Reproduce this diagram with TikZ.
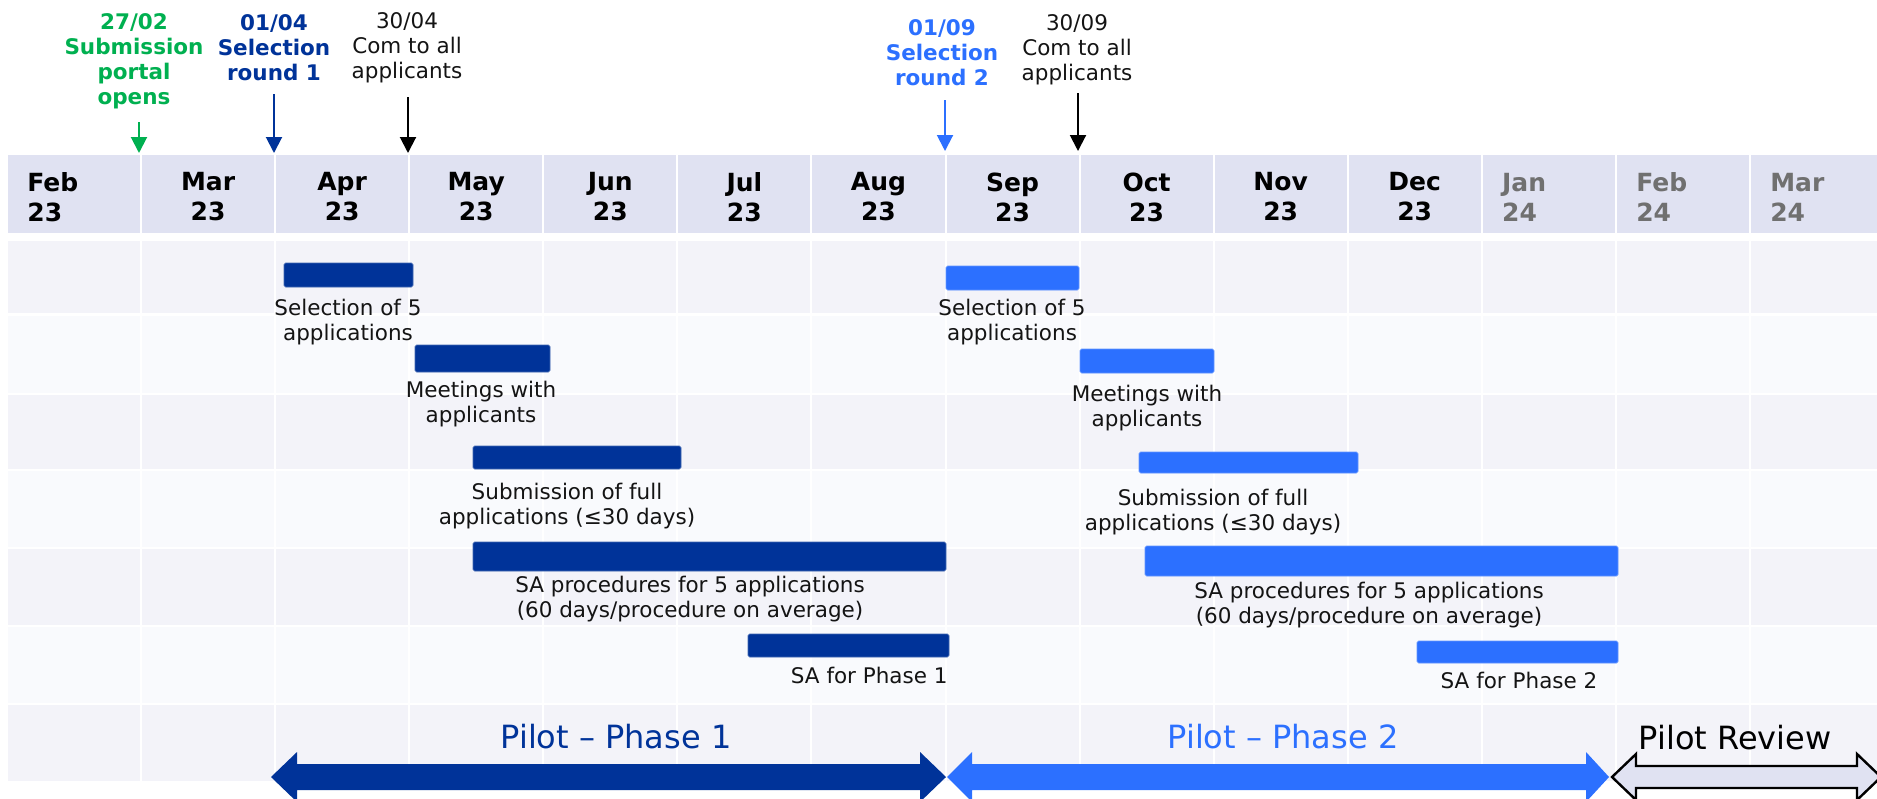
\documentclass[tikz,border=0pt]{standalone}
\usepackage{fontspec}
\setmainfont{DejaVu Sans}
\usetikzlibrary{arrows.meta}
\definecolor{dkblue}{RGB}{0,51,153}
\definecolor{ltblue}{RGB}{44,112,255}
\definecolor{grn}{RGB}{0,176,80}
\definecolor{hdr}{RGB}{224,226,242}
\definecolor{rowA}{RGB}{243,243,249}
\definecolor{rowB}{RGB}{249,250,253}
\definecolor{gry}{RGB}{112,112,112}
\definecolor{txt}{RGB}{20,20,20}
\begin{document}
\begin{tikzpicture}[x=0.5pt,y=-0.5pt,
  lbl/.style={font={\fontsize{10.75}{12.5}\selectfont}, align=center, inner sep=0pt, text=txt},
  blbl/.style={font={\fontsize{10.75}{12.5}\selectfont\bfseries}, align=center, inner sep=0pt},
  month/.style={font={\fontsize{12.5}{15}\selectfont\bfseries}, inner sep=0pt},
  pil/.style={font={\fontsize{16}{19}\selectfont}, inner sep=0pt},
  tick/.style={line width=1pt, -{Triangle[width=8pt,length=8pt]}},
  dkbar/.style={fill=dkblue, draw=dkblue!75!white, line width=0.4pt, rounded corners=0.8pt},
  ltbar/.style={fill=ltblue, draw=ltblue!75!white, line width=0.4pt, rounded corners=0.8pt}
]
\useasboundingbox (0,0) rectangle (1877,798);
\fill[white] (0,0) rectangle (1877,798);
% header band and rows
\fill[hdr] (8,155) rectangle (1877,233);
\foreach \a/\b/\c in {241/313/rowA,316/393/rowB,395/469/rowA,471/547/rowB,549/625/rowA,627/703/rowB,705/781/rowA}
  \fill[\c] (8,\a) rectangle (1877,\b);
\foreach \i in {1,...,13}
  \fill[white] ({8+134.07*\i-2},155) rectangle ({8+134.07*\i},781);
% month labels
\node[month, align=left, anchor=west] (m0) at (27,197) {Feb\\23};
\foreach \m [count=\i] in {Mar,Apr,May,Jun,Jul,Aug,Sep,Oct,Nov,Dec}
  \node[month, align=center] (m\i) at ({8+134.07*\i+66},197) {\m\\23};
\foreach \m [count=\j from 11] in {Jan,Feb,Mar}
  \node[month, align=left, anchor=west, text=gry] (m\j) at ({8+134.07*\j+19},197) {\m\\24};
% milestones
\node[blbl, text=grn] (k1) at (134,61) {27/02\\Submission\\portal\\opens};
\node[blbl, text=dkblue] (k2) at (274,48) {01/04\\Selection\\round 1};
\node[lbl] (k3) at (407,48) {30/04\\Com to all\\applicants};
\node[blbl, text=ltblue] (k4) at (942,53) {01/09\\Selection\\round 2};
\node[lbl] (k5) at (1077,50) {30/09\\Com to all\\applicants};
\coordinate (k1s) at (139,122); \coordinate (k1e) at (139,153);
\coordinate (k2s) at (274,94);  \coordinate (k2e) at (274,153);
\coordinate (k3s) at (408,97);  \coordinate (k3e) at (408,153);
\coordinate (k4s) at (945,100); \coordinate (k4e) at (945,151);
\coordinate (k5s) at (1078,93); \coordinate (k5e) at (1078,151);
\draw[tick, grn] (k1s) -- (k1e);
\draw[tick, dkblue] (k2s) -- (k2e);
\draw[tick, black] (k3s) -- (k3e);
\draw[tick, ltblue] (k4s) -- (k4e);
\draw[tick, black] (k5s) -- (k5e);
% phase 1 bars
\draw[dkbar] (284,263) rectangle (413,287);
\node[lbl] (d1) at (348,322) {Selection of 5\\applications};
\draw[dkbar] (415,345) rectangle (550,372);
\node[lbl] (d2) at (481,404) {Meetings with\\applicants};
\draw[dkbar] (473,446) rectangle (681,469);
\node[lbl] (d3) at (567,506) {Submission of full\\applications (≤30 days)};
\draw[dkbar] (473,542) rectangle (946,571);
\node[lbl] (d4) at (690,599) {SA procedures for 5 applications\\(60 days/procedure on average)};
\draw[dkbar] (748,634) rectangle (949,657);
\node[lbl, anchor=east] (d5) at (948,675) {SA for Phase 1};
% phase 2 bars
\draw[ltbar] (946,266) rectangle (1079,290);
\node[lbl] (l1) at (1012,322) {Selection of 5\\applications};
\draw[ltbar] (1080,349) rectangle (1214,373);
\node[lbl] (l2) at (1147,408) {Meetings with\\applicants};
\draw[ltbar] (1139,452) rectangle (1358,473);
\node[lbl] (l3) at (1213,512) {Submission of full\\applications (≤30 days)};
\draw[ltbar] (1145,546) rectangle (1618,576);
\node[lbl] (l4) at (1369,605) {SA procedures for 5 applications\\(60 days/procedure on average)};
\draw[ltbar] (1417,641) rectangle (1618,663);
\node[lbl] (l5) at (1519,680) {SA for Phase 2};
% pilot arrows
\fill[dkblue] (271,777) -- (297,752) -- (297,764) -- (920,764) -- (920,752) -- (946,777)
  -- (920,802) -- (920,790) -- (297,790) -- (297,802) -- cycle;
\fill[ltblue] (947,777) -- (972,752) -- (972,764) -- (1586,764) -- (1586,752) -- (1609,777)
  -- (1586,802) -- (1586,790) -- (972,790) -- (972,802) -- cycle;
\filldraw[fill=hdr, draw=black, line width=1.2pt] (1612,777) -- (1636,754) -- (1636,766)
  -- (1857,766) -- (1857,754) -- (1881,777) -- (1857,800) -- (1857,788) -- (1636,788)
  -- (1636,800) -- cycle;
\node[pil, text=dkblue] (p1) at (616,737) {Pilot – Phase 1};
\node[pil, text=ltblue] (p2) at (1283,737) {Pilot – Phase 2};
\node[pil, text=black] (p3) at (1735,738) {Pilot Review};
\end{tikzpicture}
\end{document}
